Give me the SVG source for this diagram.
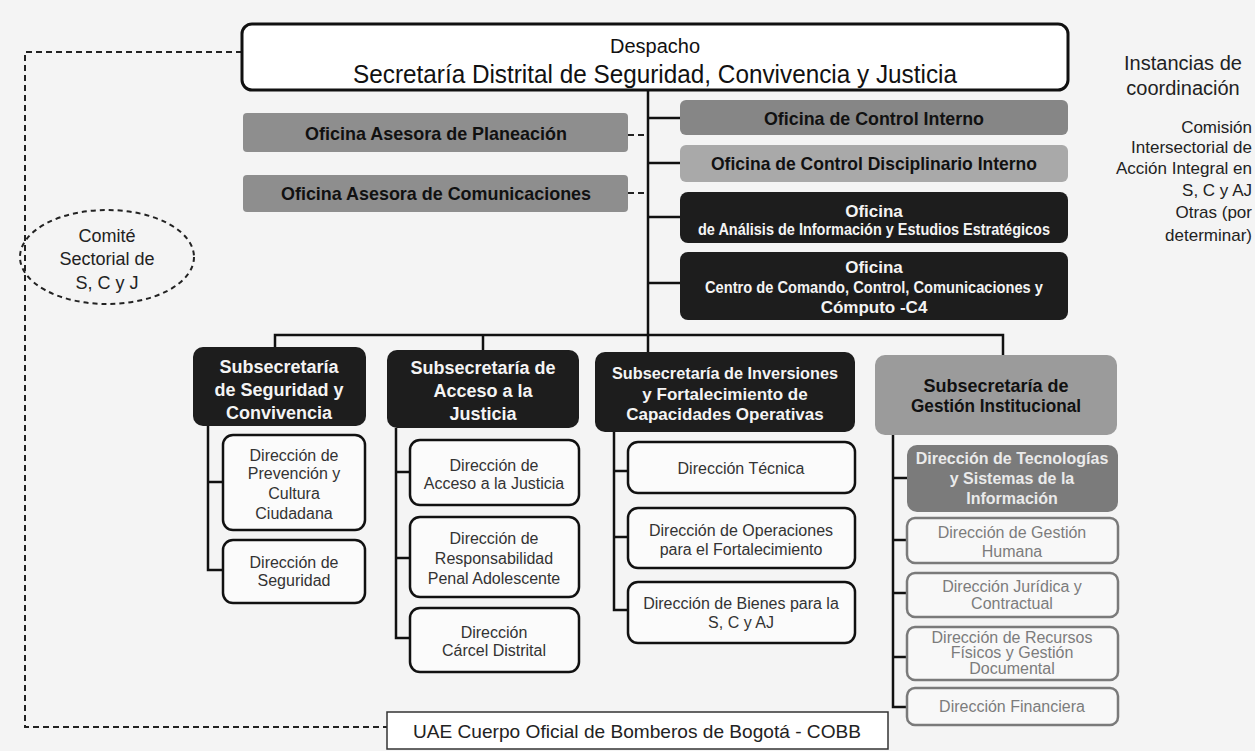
<svg xmlns="http://www.w3.org/2000/svg" width="1255" height="751" viewBox="0 0 1255 751">
<style>
text{font-family:"Liberation Sans",Arial,sans-serif;}
.ln{stroke:#111;stroke-width:2.5;fill:none}
.dash{stroke:#222;stroke-width:2;fill:none;stroke-dasharray:6 4}
.g1{fill:#8e8e8e}
.g2{fill:#868686}
.g3{fill:#a9a9a9}
.g4{fill:#9b9b9b}
.g5{fill:#7b7b7b}
.blk{fill:#1d1d1d}
.wbox{fill:#fbfbfb;stroke:#111;stroke-width:2.5}
.lbox{fill:#f8f8f8;stroke:#7a7a7a;stroke-width:2.5}
.tb{font-weight:bold;fill:#111;text-anchor:middle}
.tw{font-weight:bold;fill:#f4f4f4;text-anchor:middle}
.td{fill:#333;text-anchor:middle;font-size:16px}
.tl{fill:#7c7c7c;text-anchor:middle;font-size:16px}
.tt{fill:#eaeaea;text-anchor:middle;font-size:16px;font-weight:bold}
.tr{fill:#222;text-anchor:end;font-size:17px}
</style>
<rect width="1255" height="751" fill="#f4f4f4"/>

<g id="connectors">
<path class="ln" d="M648 90 V352"/>
<path class="ln" d="M648 118 H680 M648 163 H680 M648 217 H680 M648 283 H680"/>
<path class="dash" d="M628 135 H648 M628 193 H648"/>
<path class="ln" d="M275 347 V335 H1003 V355 M483 335 V350"/>
<path class="ln" d="M208 426 V570 H223 M208 482 H223"/>
<path class="ln" d="M396 428 V638 H410 M396 472 H410 M396 558 H410"/>
<path class="ln" d="M614 432 V610 H628 M614 471 H628 M614 537 H628"/>
<path class="ln" d="M893 435 V707 H907 M893 478 H907 M893 540 H907 M893 593 H907 M893 657 H907"/>
<path class="dash" d="M242 52 H25 V727 H387"/>
</g>

<g id="despacho">
<rect x="242" y="24" width="826" height="66" rx="10" fill="#fff" stroke="#111" stroke-width="3"/>
<text x="655" y="53" font-size="20" fill="#111" text-anchor="middle">Despacho</text>
<text x="655" y="83" font-size="26" fill="#111" text-anchor="middle" textLength="604" lengthAdjust="spacingAndGlyphs">Secretaría Distrital de Seguridad, Convivencia y Justicia</text>
</g>

<g id="instancias">
<text x="1183" y="70" font-size="20" fill="#222" text-anchor="middle">Instancias de</text>
<text x="1183" y="95" font-size="20" fill="#222" text-anchor="middle">coordinación</text>
<text class="tr" x="1252" y="133">Comisión</text>
<text class="tr" x="1252" y="153">Intersectorial de</text>
<text class="tr" x="1252" y="174">Acción Integral en</text>
<text class="tr" x="1252" y="196">S, C y AJ</text>
<text class="tr" x="1252" y="218">Otras (por</text>
<text class="tr" x="1252" y="241">determinar)</text>
</g>

<g id="comite">
<ellipse cx="107" cy="257" rx="87" ry="47" fill="none" stroke="#222" stroke-width="2" stroke-dasharray="5 4"/>
<text x="107" y="242" font-size="18" fill="#222" text-anchor="middle">Comité</text>
<text x="107" y="265" font-size="18" fill="#222" text-anchor="middle">Sectorial de</text>
<text x="107" y="289" font-size="18" fill="#222" text-anchor="middle">S, C y J</text>
</g>

<g id="of-planeacion">
<rect class="g1" x="243" y="113" width="385" height="39" rx="4"/>
<text class="tb" x="436" y="140" font-size="19" textLength="262" lengthAdjust="spacingAndGlyphs">Oficina Asesora de Planeación</text>
</g>
<g id="of-comunicaciones">
<rect class="g1" x="243" y="175" width="385" height="37" rx="4"/>
<text class="tb" x="436" y="200" font-size="19" textLength="310" lengthAdjust="spacingAndGlyphs">Oficina Asesora de Comunicaciones</text>
</g>

<g id="of-control-interno">
<rect class="g2" x="680" y="100" width="388" height="35" rx="6"/>
<text class="tb" x="874" y="125" font-size="19" textLength="220" lengthAdjust="spacingAndGlyphs">Oficina de Control Interno</text>
</g>
<g id="of-disciplinario">
<rect class="g3" x="680" y="145" width="388" height="37" rx="6"/>
<text class="tb" x="874" y="170" font-size="19" textLength="326" lengthAdjust="spacingAndGlyphs">Oficina de Control Disciplinario Interno</text>
</g>
<g id="of-analisis">
<rect class="blk" x="680" y="192" width="388" height="51" rx="8"/>
<text class="tw" x="874" y="217" font-size="17">Oficina</text>
<text class="tw" x="874" y="235" font-size="17" textLength="352" lengthAdjust="spacingAndGlyphs">de Análisis de Información y Estudios Estratégicos</text>
</g>
<g id="of-c4">
<rect class="blk" x="680" y="252" width="388" height="68" rx="8"/>
<text class="tw" x="874" y="273" font-size="17">Oficina</text>
<text class="tw" x="874" y="293" font-size="17" textLength="338" lengthAdjust="spacingAndGlyphs">Centro de Comando, Control, Comunicaciones y</text>
<text class="tw" x="874" y="313" font-size="17">Cómputo -C4</text>
</g>

<g id="sub-seguridad">
<rect class="blk" x="193" y="347" width="173" height="79" rx="10"/>
<text class="tw" x="279" y="373" font-size="18">Subsecretaría</text>
<text class="tw" x="279" y="396" font-size="18">de Seguridad y</text>
<text class="tw" x="279" y="419" font-size="18">Convivencia</text>
</g>
<g id="sub-acceso">
<rect class="blk" x="387" y="350" width="192" height="78" rx="10"/>
<text class="tw" x="483" y="374" font-size="18">Subsecretaría de</text>
<text class="tw" x="483" y="397" font-size="18">Acceso a la</text>
<text class="tw" x="483" y="420" font-size="18">Justicia</text>
</g>
<g id="sub-inversiones">
<rect class="blk" x="595" y="352" width="260" height="80" rx="10"/>
<text class="tw" x="725" y="379" font-size="17" textLength="226" lengthAdjust="spacingAndGlyphs">Subsecretaría de Inversiones</text>
<text class="tw" x="725" y="400" font-size="17">y Fortalecimiento de</text>
<text class="tw" x="725" y="420" font-size="17">Capacidades Operativas</text>
</g>
<g id="sub-gestion">
<rect class="g4" x="875" y="355" width="242" height="80" rx="10"/>
<text class="tb" x="996" y="392" font-size="18">Subsecretaría de</text>
<text class="tb" x="996" y="412" font-size="18" textLength="170" lengthAdjust="spacingAndGlyphs">Gestión Institucional</text>
</g>

<g id="dir-prevencion">
<rect class="wbox" x="223" y="435" width="142" height="95" rx="10"/>
<text class="td" x="294" y="461">Dirección de</text>
<text class="td" x="294" y="479">Prevención y</text>
<text class="td" x="294" y="499">Cultura</text>
<text class="td" x="294" y="519">Ciudadana</text>
</g>
<g id="dir-seguridad">
<rect class="wbox" x="223" y="540" width="142" height="63" rx="10"/>
<text class="td" x="294" y="568">Dirección de</text>
<text class="td" x="294" y="586">Seguridad</text>
</g>

<g id="dir-acceso">
<rect class="wbox" x="410" y="440" width="169" height="65" rx="10"/>
<text class="td" x="494" y="471">Dirección de</text>
<text class="td" x="494" y="489">Acceso a la Justicia</text>
</g>
<g id="dir-responsabilidad">
<rect class="wbox" x="410" y="517" width="169" height="80" rx="10"/>
<text class="td" x="494" y="544">Dirección de</text>
<text class="td" x="494" y="564">Responsabilidad</text>
<text class="td" x="494" y="584">Penal Adolescente</text>
</g>
<g id="dir-carcel">
<rect class="wbox" x="410" y="608" width="169" height="64" rx="10"/>
<text class="td" x="494" y="638">Dirección</text>
<text class="td" x="494" y="656">Cárcel Distrital</text>
</g>

<g id="dir-tecnica">
<rect class="wbox" x="628" y="442" width="227" height="51" rx="10"/>
<text class="td" x="741" y="474">Dirección Técnica</text>
</g>
<g id="dir-operaciones">
<rect class="wbox" x="628" y="508" width="227" height="60" rx="10"/>
<text class="td" x="741" y="536">Dirección de Operaciones</text>
<text class="td" x="741" y="555">para el Fortalecimiento</text>
</g>
<g id="dir-bienes">
<rect class="wbox" x="628" y="582" width="227" height="61" rx="10"/>
<text class="td" x="741" y="609">Dirección de Bienes para la</text>
<text class="td" x="741" y="628">S, C y AJ</text>
</g>

<g id="dir-tecnologias">
<rect class="g5" x="907" y="445" width="211" height="67" rx="10"/>
<text class="tt" x="1012" y="464">Dirección de Tecnologías</text>
<text class="tt" x="1012" y="484">y Sistemas de la</text>
<text class="tt" x="1012" y="504">Información</text>
</g>
<g id="dir-humana">
<rect class="lbox" x="907" y="518" width="211" height="45" rx="8"/>
<text class="tl" x="1012" y="538">Dirección de Gestión</text>
<text class="tl" x="1012" y="557">Humana</text>
</g>
<g id="dir-juridica">
<rect class="lbox" x="907" y="573" width="211" height="44" rx="8"/>
<text class="tl" x="1012" y="592">Dirección Jurídica y</text>
<text class="tl" x="1012" y="609">Contractual</text>
</g>
<g id="dir-recursos">
<rect class="lbox" x="907" y="627" width="211" height="53" rx="8"/>
<text class="tl" x="1012" y="643">Dirección de Recursos</text>
<text class="tl" x="1012" y="658">Físicos y Gestión</text>
<text class="tl" x="1012" y="674">Documental</text>
</g>
<g id="dir-financiera">
<rect class="lbox" x="907" y="688" width="211" height="37" rx="8"/>
<text class="tl" x="1012" y="712">Dirección Financiera</text>
</g>

<g id="uae">
<rect x="387" y="712" width="501" height="37" fill="#fff" stroke="#333" stroke-width="1.5"/>
<text x="637" y="738" font-size="19" fill="#222" text-anchor="middle" textLength="448" lengthAdjust="spacingAndGlyphs">UAE Cuerpo Oficial de Bomberos de Bogotá - COBB</text>
</g>
</svg>
